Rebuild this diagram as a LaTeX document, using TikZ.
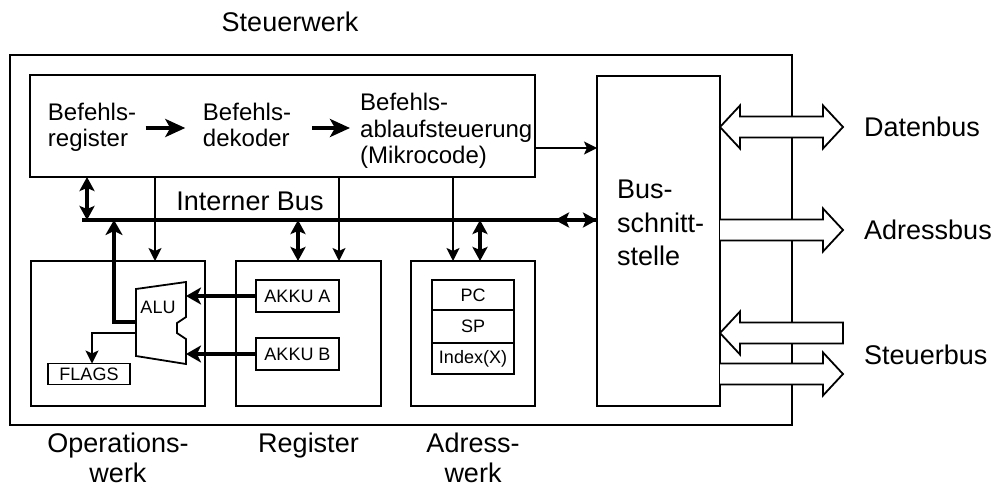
\documentclass[tikz,border=0pt]{standalone}
\usepackage{fontspec}
\setmainfont{Liberation Sans}
\usetikzlibrary{positioning, arrows.meta, calc}

\begin{document}
\begin{tikzpicture}[
        x=1pt, y=-1pt,
        box/.style={rectangle, draw=black, line width=1.8pt, inner sep=0pt, outer sep=0pt},
        txt/.style={inner sep=0pt, font=\fontsize{24}{26.5}\selectfont},
        big/.style={inner sep=0pt, align=center, font=\fontsize{27}{30}\selectfont},
        small/.style={rectangle, draw=black, line width=1.8pt, inner sep=0pt, outer sep=0pt,
            font=\fontsize{18}{20}\selectfont},
        arrow/.style={line width=1.8pt, -{Stealth[length=13pt, width=13pt, inset=3pt]}},
        fat/.style={line width=4pt, -{Stealth[length=15pt, width=17pt, inset=4pt]}},
        fatdbl/.style={line width=4pt,
            {Stealth[length=14pt, width=15pt, inset=3pt]}-{Stealth[length=14pt, width=15pt, inset=3pt]}},
        flow/.style={line width=4pt, -{Stealth[length=20pt, width=18pt, inset=5pt]}},
        hollow/.style={draw=black, fill=white, line width=1.8pt, line join=miter}
    ]
    \useasboundingbox (0,0) rectangle (995,487);

    % Steuerwerk frame
    \node (sw) [box, minimum width=782pt, minimum height=370pt] at (401,240) {};
    \node (swlbl) [big] at (290,22) {Steuerwerk};

    % Befehlsablauf
    \node (ctrl) [box, minimum width=505pt, minimum height=102pt] at (282.5,126) {};
    \node (befreg) [txt, align=left] at (92,127.5) {Befehls-\\register};
    \node (befdek) [txt, align=left] at (247,125) {Befehls-\\dekoder};
    \node (ablauf) [txt, align=left, anchor=west] at (360,131) {Befehls-\\ablaufsteuerung\\(Mikrocode)};
    \draw [flow] ([shift={(9.5,0.5)}]befreg.east) -- ([shift={(-17.5,3)}]befdek.west);
    \draw [flow] ([shift={(21,3)}]befdek.east) -- ([shift={(-10,-3)}]ablauf.west);

    % Busschnittstelle
    \node (bsi) [box, minimum width=123pt, minimum height=330pt] at (658.5,241) {};
    \node (bsitxt) [big, align=left, anchor=west, font=\fontsize{27}{33.5}\selectfont] at (617,223) {Bus-\\schnitt-\\stelle};
    \draw [arrow] ([yshift=-22pt]ctrl.east) -- ([yshift=-22pt]ctrl.east -| bsi.west);

    % Bottom Row
    \node (ops) [box, minimum width=174pt, minimum height=145pt] at (118,333.5) {};
    \node (reg) [box, minimum width=145pt, minimum height=145pt, right=31pt of ops] {};
    \node (adr) [box, minimum width=124pt, minimum height=145pt, right=30pt of reg] {};
    \node (opslbl) [big, below=27pt of ops] {Operations-\\werk};
    \node (reglbl) [big, below=27pt of reg] {Register};
    \node (adrlbl) [big, below=27pt of adr] {Adress-\\werk};

    % Interner Bus
    \coordinate (busL) at (82,220);
    \node (buslbl) [big] at (250,201) {Interner Bus};
    \draw [line width=4.5pt] (busL) -- (busL -| bsi.west);
    \draw [fatdbl] ([xshift=-42pt]busL -| bsi.west) -- (busL -| bsi.west);
    \coordinate (tap1) at ([xshift=57pt]ctrl.south west);
    \coordinate (tap2) at ([xshift=-10.5pt]reg.north);
    \coordinate (tap3) at ([xshift=7pt]adr.north);
    \draw [fatdbl] (tap1) -- (tap1 |- busL);
    \draw [fatdbl] (tap2 |- busL) -- (tap2);
    \draw [fatdbl] (tap3 |- busL) -- (tap3);

    % Steuerleitungen
    \coordinate (drop1) at ([xshift=125pt]ctrl.south west);
    \coordinate (drop2) at ([xshift=309pt]ctrl.south west);
    \coordinate (drop3) at ([xshift=423pt]ctrl.south west);
    \draw [arrow] (drop1) -- (drop1 |- ops.north);
    \draw [arrow] (drop2) -- (drop2 |- reg.north);
    \draw [arrow] (drop3) -- (drop3 |- adr.north);

    % ALU
    \draw [line width=1.8pt, line join=miter] (136,289) -- (186,282) -- (186,317) -- (177,323)
        -- (177,333) -- (186,339) -- (186,364) -- (136,356) -- cycle;
    \node (alu) [font=\fontsize{18}{20}\selectfont, inner sep=0pt] at (158,307) {ALU};
    \coordinate (aluA) at (186,296);
    \coordinate (aluB) at (186,354);
    \coordinate (aluOut) at (136,322);
    \coordinate (aluFl) at (136,333);
    \node (flags) [small, minimum width=82pt, minimum height=21pt] at (89,374) {FLAGS};
    \draw [fat] (aluOut) -| ([xshift=32pt]busL);
    \draw [arrow] (aluFl) -| ([xshift=3pt]flags.north);

    % Akkus
    \node (akkua) [small, minimum width=83pt, minimum height=32pt] at (297.5,296) {AKKU A};
    \node (akkub) [small, minimum width=83pt, minimum height=32pt] at (297.5,354) {AKKU B};
    \draw [fat] (akkua.west) -- (aluA);
    \draw [fat] (akkub.west) -- (aluB);

    % Adressregister
    \node (pc) [small, minimum width=82pt, minimum height=30pt] at (473,295) {PC};
    \node (sp) [small, minimum width=82pt, minimum height=33pt, below=0pt of pc] {SP};
    \node (idx) [small, minimum width=82pt, minimum height=31pt, below=0pt of sp] {Index(X)};

    % Externe Busse
    \node (datlbl) [big, anchor=west] at (864,127) {Datenbus};
    \node (adrbus) [big, anchor=west] at (864,230) {Adressbus};
    \node (stlbl) [big, anchor=west] at (864,355) {Steuerbus};
    \draw [hollow] (bsi.east |- datlbl) -- ++(20,-21.5) -- ++(0,11) -- ++(83,0) -- ++(0,-11)
        -- ++(20,21.5) -- ++(-20,21.5) -- ++(0,-11) -- ++(-83,0) -- ++(0,11) -- cycle;
    \draw [hollow] ($(bsi.east |- adrbus)+(0,-10.5)$) -- ++(103,0) -- ++(0,-11) -- ++(20,21.5)
        -- ++(-20,21.5) -- ++(0,-11) -- ++(-103,0);
    \draw [hollow] ($(bsi.east |- stlbl)+(0,-22)$) -- ++(20,-21.5) -- ++(0,11) -- ++(103,0)
        -- ++(0,21) -- ++(-103,0) -- ++(0,11) -- cycle;
    \draw [hollow] ($(bsi.east |- stlbl)+(0,8.5)$) -- ++(103,0) -- ++(0,-11) -- ++(20,21.5)
        -- ++(-20,21.5) -- ++(0,-11) -- ++(-103,0);

\end{tikzpicture}
\end{document}
